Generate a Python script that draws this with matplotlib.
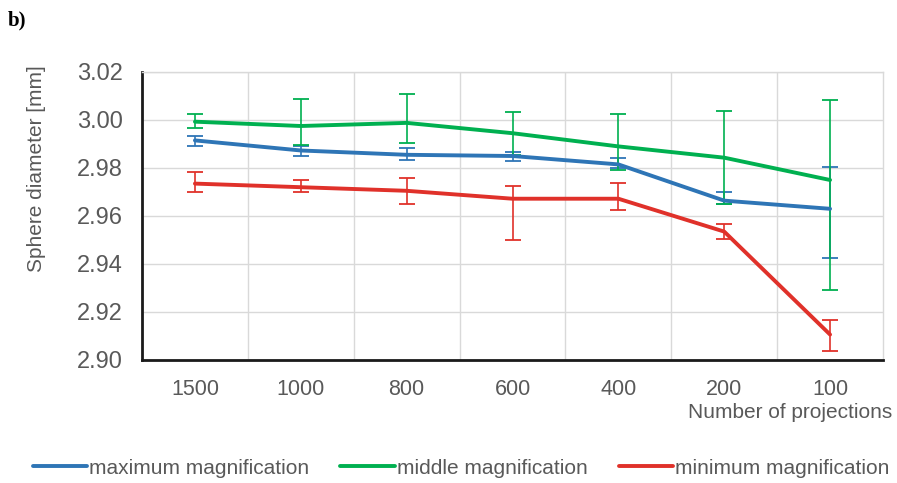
import numpy as np
import matplotlib.pyplot as plt

projections = ["1500", "1000", "800", "600", "400", "200", "100"]

max_mag = [2.9915, 2.9873, 2.9855, 2.9850, 2.9815, 2.9664, 2.9630]
max_lo = [0.0022, 0.0023, 0.0022, 0.0020, 0.0017, 0.0014, 0.0206]
max_hi = [0.0020, 0.0020, 0.0030, 0.0015, 0.0025, 0.0035, 0.0173]

mid_mag = [2.9993, 2.9975, 2.9988, 2.9945, 2.9890, 2.9843, 2.9750]
mid_lo = [0.0028, 0.0080, 0.0082, 0.0090, 0.0098, 0.0195, 0.0458]
mid_hi = [0.0033, 0.0113, 0.0120, 0.0087, 0.0135, 0.0195, 0.0333]

min_mag = [2.9735, 2.9720, 2.9705, 2.9672, 2.9672, 2.9535, 2.9106]
min_lo = [0.0035, 0.0020, 0.0055, 0.0172, 0.0045, 0.0030, 0.0070]
min_hi = [0.0048, 0.0032, 0.0055, 0.0051, 0.0065, 0.0030, 0.0060]

series = [
    ("maximum magnification", max_mag, max_lo, max_hi, "#2E75B6"),
    ("middle magnification", mid_mag, mid_lo, mid_hi, "#00B050"),
    ("minimum magnification", min_mag, min_lo, min_hi, "#E0312A"),
]

gray = "#595959"
plt.rcParams['font.family'] = ['Liberation Sans', 'DejaVu Sans']

fig = plt.figure(figsize=(8.97, 4.83), dpi=100)
ax = fig.add_axes([142 / 897, 1 - 360 / 483, 741 / 897, 288 / 483])

x = np.arange(len(projections))
handles = []
for name, vals, lo, hi, col in series:
    ax.errorbar(x, vals, yerr=[lo, hi], fmt='none', ecolor=col,
                elinewidth=1.2, capsize=5.5, capthick=1.3, zorder=3)
    h, = ax.plot(x, vals, color=col, lw=2.8, label=name, zorder=4,
                 solid_capstyle='round')
    handles.append(h)

ax.set_xlim(-0.5, len(projections) - 0.5)
ax.set_ylim(2.90, 3.02)
ax.set_yticks(np.arange(2.90, 3.0201, 0.02))
ax.set_yticklabels([f"{v:.2f}" for v in np.arange(2.90, 3.0201, 0.02)])
ax.set_xticks(x)
ax.set_xticklabels(projections)
ax.set_xticks(np.arange(0.5, len(projections) - 0.5, 1), minor=True)

ax.grid(True, which='major', axis='y', color='#D9D9D9', lw=1)
ax.grid(True, which='minor', axis='x', color='#D9D9D9', lw=1)
ax.set_axisbelow(True)

ax.tick_params(axis='both', which='both', length=0, labelcolor=gray)
ax.tick_params(axis='x', pad=14, labelsize=15.5)
ax.tick_params(axis='y', pad=14, labelsize=17)

for s in ['left', 'bottom']:
    ax.spines[s].set_color('#1A1A1A')
    ax.spines[s].set_linewidth(2)
for s in ['top', 'right']:
    ax.spines[s].set_color('#D9D9D9')
    ax.spines[s].set_linewidth(1)

fig.text(36 / 897, 1 - 169 / 483, "Sphere diameter [mm]", rotation=90,
         ha='center', va='center', fontsize=15, color=gray)
fig.text(892 / 897, 1 - 413 / 483, "Number of projections",
         ha='right', va='center', fontsize=15, color=gray)
fig.text(8 / 897, 1 - 20 / 483, "b)", ha='left', va='center',
         fontsize=15, fontweight='bold', family='Liberation Serif')

fig.legend(handles=handles, loc='center', ncol=3,
           bbox_to_anchor=(461 / 897, 1 - 468 / 483), frameon=False,
           fontsize=15, labelcolor=gray, handlelength=2.6,
           handletextpad=0.1, columnspacing=1.5)

fig.savefig("out.png", dpi=100)
